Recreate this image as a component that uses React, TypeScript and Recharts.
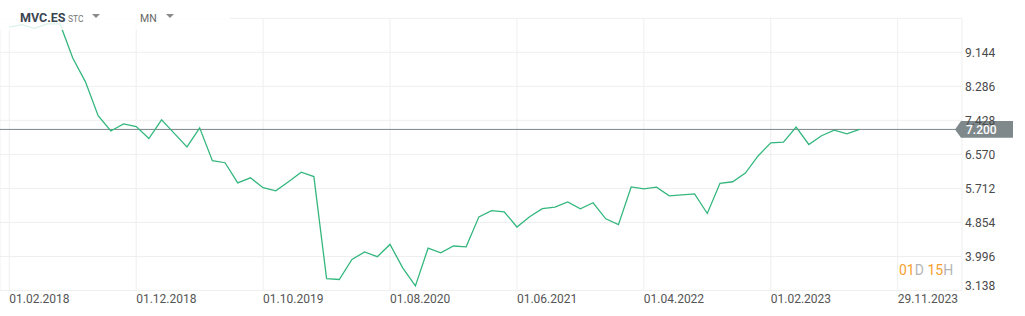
import React from 'react';
import { LineChart, Line, XAxis, YAxis, CartesianGrid, ReferenceLine } from 'recharts';

// monthly closes, first point = 01.02.2018
const closes = [
    9.78, 9.84, 9.75, 9.86, 9.86, 9.0, 8.4, 7.545, 7.16, 7.34,
    7.27, 6.97, 7.44, 7.1, 6.76, 7.24, 6.41, 6.36, 5.85, 5.98,
    5.73, 5.65, 5.88, 6.12, 6.01, 3.44, 3.415, 3.92, 4.11, 3.99,
    4.3, 3.71, 3.255, 4.205, 4.09, 4.26, 4.24, 4.995, 5.15, 5.12,
    4.74, 5.0, 5.2, 5.24, 5.37, 5.2, 5.35, 4.945, 4.8, 5.75,
    5.7, 5.745, 5.525, 5.55, 5.575, 5.08, 5.84, 5.88, 6.1, 6.53,
    6.86, 6.88, 7.26, 6.82, 7.04, 7.18, 7.09, 7.2,
];

const xTicks = [0, 10, 20, 30, 40, 50, 60, 70];
const xTickLabels = [
    '01.02.2018', '01.12.2018', '01.10.2019', '01.08.2020',
    '01.06.2021', '01.04.2022', '01.02.2023', '29.11.2023',
];
const yTicks = [3.138, 3.996, 4.854, 5.712, 6.57, 7.428, 8.286, 9.144];
const lastPrice = 7.2;

const data = closes.map((close, i) => ({ month: i, close }));

const FONT = 'Roboto, "Noto Sans", sans-serif';

const XTick = (props: any) => {
    const { x, y, payload } = props;
    const idx = xTicks.indexOf(payload.value);
    return (
        <text x={x} y={y + 12} textAnchor="start" fill="#555" fontSize={12} fontFamily={FONT}>
            {xTickLabels[idx]}
        </text>
    );
};

const YTick = (props: any) => {
    const { x, y, payload } = props;
    const shift = payload.value === yTicks[0] ? -5 : 0;
    const label = payload.value.toFixed(3);
    return (
        <text x={x} y={y + shift} dy="0.36em" textAnchor="start" fill="#4a4a4a" fontSize={12} fontFamily={FONT}>
            {label}
        </text>
    );
};

const PriceTag = (props: any) => {
    const { viewBox } = props;
    const tip = viewBox.x + viewBox.width - 7;
    const cy = viewBox.y;
    const h = 8.3;
    return (
        <g>
            <polygon
                points={`${tip},${cy} ${tip + 6},${cy - h} ${tip + 58},${cy - h} ${tip + 58},${cy + h} ${tip + 6},${cy + h}`}
                fill="#7f898c"
            />
            <text x={tip + 11} y={cy} dy="0.36em" fill="#fff" fontSize={12} fontWeight={500} fontFamily={FONT}>
                {lastPrice.toFixed(3)}
            </text>
        </g>
    );
};

export default function App() {
    return (
        <div style={{ position: 'fixed', left: 0, top: 0, width: 1025, height: 316, background: '#fff', fontFamily: FONT }}>
            <LineChart
                width={1025}
                height={316}
                data={data}
                margin={{ top: 18.3, right: 0, left: 0, bottom: 0 }}
            >
                <CartesianGrid stroke="#efefef" strokeWidth={1} />
                <XAxis
                    dataKey="month"
                    type="number"
                    domain={[-0.733, 75.07]}
                    allowDataOverflow
                    ticks={xTicks}
                    axisLine={false}
                    tickLine={false}
                    tickSize={0}
                    tickMargin={0}
                    height={25.5}
                    tick={<XTick />}
                    interval={0}
                />
                <YAxis
                    orientation="right"
                    type="number"
                    domain={[3.138, 10.002]}
                    allowDataOverflow
                    ticks={yTicks}
                    axisLine={false}
                    tickLine={false}
                    tickSize={0}
                    tickMargin={3}
                    width={63}
                    tick={<YTick />}
                    interval={0}
                />
                <ReferenceLine y={lastPrice} stroke="#7c8689" strokeWidth={1} label={<PriceTag />} />
                <Line
                    type="linear"
                    dataKey="close"
                    stroke="#34b77e"
                    strokeWidth={1.3}
                    dot={false}
                    isAnimationActive={false}
                />
            </LineChart>

            {/* header overlay */}
            <div
                style={{
                    position: 'absolute', left: 0, top: 0, width: 230, height: 30,
                    background: 'rgba(255,255,255,0.82)',
                }}
            />
            <div style={{ position: 'absolute', left: 20, top: 11, fontSize: 12.5, fontWeight: 700, color: '#3b4550', lineHeight: '14px' }}>
                MVC.ES
            </div>
            <div style={{ position: 'absolute', left: 68, top: 14, fontSize: 8.5, color: '#777', lineHeight: '10px' }}>
                STC
            </div>
            <svg style={{ position: 'absolute', left: 92, top: 14 }} width={10} height={6}>
                <polygon points="0,0 8,0 4,4" fill="#8a8a8a" />
            </svg>
            <div style={{ position: 'absolute', left: 140, top: 13, fontSize: 10.5, color: '#666', lineHeight: '12px' }}>
                MN
            </div>
            <svg style={{ position: 'absolute', left: 166, top: 14 }} width={10} height={6}>
                <polygon points="0,0 8,0 4,4" fill="#8a8a8a" />
            </svg>

            {/* countdown */}
            <div style={{ position: 'absolute', left: 899, top: 261, fontSize: 14, lineHeight: '18px', whiteSpace: 'nowrap' }}>
                <span style={{ color: '#f7a030' }}>01</span>
                <span style={{ color: '#b5b5b5' }}>D </span>
                <span style={{ color: '#f7a030' }}>15</span>
                <span style={{ color: '#b5b5b5' }}>H</span>
            </div>
        </div>
    );
}
